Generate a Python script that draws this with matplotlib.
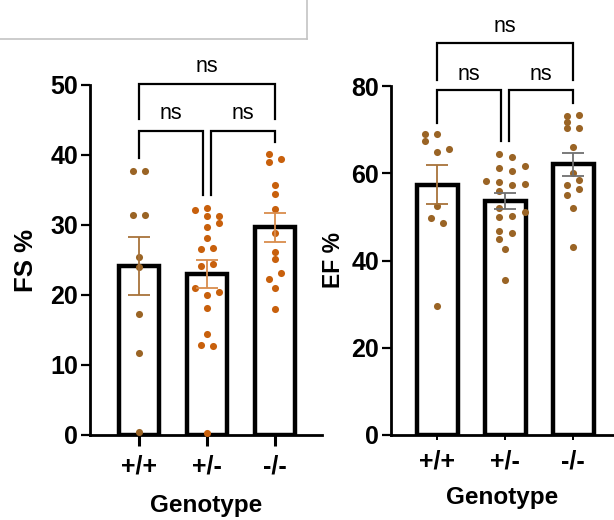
import numpy as np
import matplotlib
matplotlib.use("Agg")
import matplotlib.pyplot as plt
from matplotlib.lines import Line2D

plt.rcParams['font.family'] = ['Liberation Sans', 'DejaVu Sans']

genotypes = ["+/+", "+/-", "-/-"]

fs_wt = [37.7, 37.7, 31.5, 31.5, 25.4, 24.0, 17.3, 11.7, 0.4]
fs_het = [32.5, 32.2, 31.3, 31.3, 30.3, 29.7, 28.2, 26.7, 26.6, 24.4, 24.1,
          21.0, 20.5, 20.0, 18.2, 14.4, 12.8, 12.7, 0.3]
fs_ko = [40.1, 39.5, 39.0, 35.7, 34.5, 32.3, 28.8, 26.2, 25.1, 23.1, 22.3, 21.0, 18.0]

ef_wt = [68.9, 68.9, 67.5, 65.6, 64.8, 52.6, 49.7, 48.6, 29.6]
ef_het = [64.5, 63.8, 61.6, 61.3, 60.6, 58.3, 58.1, 57.6, 57.3, 56.0, 52.1,
          51.2, 50.3, 50.0, 46.8, 46.2, 45.0, 42.6, 35.6]
ef_ko = [73.4, 73.2, 71.7, 70.4, 70.3, 66.1, 60.0, 58.4, 57.2, 56.3, 55.0, 52.0, 43.0]

# horizontal scatter offsets (pixels) for the dot swarm
fs_wt_dx = [-6, 6, -6, 6, 0, 0, 0, 0, 0]
fs_het_dx = [0, -12, 0, 12, 12, 0, 0, 6, -6, 6, -6, -12, 12, 0, 0, 0, -6, 6, 0]
fs_ko_dx = [-6, 6, -6, 0, 0, 0, 0, 0, 0, 6, -6, 0, 0]
ef_wt_dx = [-12, 0, -12, 12, 0, 0, -6, 6, 0]
ef_het_dx = [-6.5, 6.5, 19.5, -6.5, 6.5, -19.5, -6.5, 19.5, 6.5, -6.5, -6.5,
             19.5, 6.5, -6.5, -6.5, 6.5, -6.5, 0, 0]
ef_ko_dx = [6, -6, -6, 6, -6, 0, 0, 6, -6, 6, -6, 0, 0]

BROWN = "#9A6425"
ORANGE = "#C8600C"

W, H = 614, 520
fig = plt.figure(figsize=(W / 100, H / 100), dpi=100)

fig.add_artist(Line2D([0, 307 / W], [1 - 39 / H, 1 - 39 / H], color="#c4c4c4", lw=1.2))
fig.add_artist(Line2D([307 / W, 307 / W], [1, 1 - 39 / H], color="#c4c4c4", lw=1.2))

PX = 68.0  # pixels per category unit


def panel(rect, xlim, ylim, yticks, ylabel, ylabel_size, groups, offsets, dot_colors, err_colors,
          brackets, top_bracket, ylabel_x, xtick_len, xtick_w, xpad, xlabelpad):
    ax = fig.add_axes(rect)
    ax.set_xlim(*xlim)
    ax.set_ylim(*ylim)
    x = np.arange(len(groups))
    means = [np.mean(g) for g in groups]
    sems = [np.std(g, ddof=1) / np.sqrt(len(g)) for g in groups]
    ax.bar(x, means, width=0.6, facecolor="white", edgecolor="black", linewidth=3.2, zorder=2)
    for i, (g, dx) in enumerate(zip(groups, offsets)):
        xs = i + np.array(dx) / PX
        ax.scatter(xs, g, s=26, color=dot_colors[i], zorder=3, linewidths=0, clip_on=False)
        ax.errorbar(i, means[i], yerr=sems[i], color=err_colors[i], capsize=8,
                    elinewidth=1.3, capthick=1.3, zorder=4)
    for s in ["top", "right"]:
        ax.spines[s].set_visible(False)
    for s in ["left", "bottom"]:
        ax.spines[s].set_linewidth(2.0)
    ax.set_yticks(yticks)
    ax.tick_params(axis="y", length=6.5, width=1.6, labelsize=18, pad=2)
    ax.tick_params(axis="x", length=xtick_len, width=xtick_w, labelsize=18, pad=xpad)
    for lab in ax.get_yticklabels() + ax.get_xticklabels():
        lab.set_fontweight("bold")
    ax.set_xticks(x)
    ax.set_xticklabels(genotypes, fontweight="bold")
    ax.set_xlabel("Genotype", fontsize=17.5, fontweight="bold", labelpad=xlabelpad)
    ax.set_ylabel(ylabel, fontsize=ylabel_size, fontweight="bold")
    ax.yaxis.set_label_coords(ylabel_x, 0.5)
    # comparison brackets
    for (xa, xb, yh, ya, yb, ty) in brackets:
        ax.plot([xa, xa, xb, xb], [ya, yh, yh, yb], color="black", lw=1.6,
                clip_on=False, zorder=5, solid_joinstyle="miter")
        ax.text((xa + xb) / 2, ty, "ns", ha="center", va="center", fontsize=15.5, clip_on=False)
    xa, xb, yh, yl, ty = top_bracket
    ax.plot([xa, xa, xb, xb], [yl, yh, yh, yl], color="black", lw=1.6, clip_on=False,
            solid_joinstyle="miter")
    ax.text((xa + xb) / 2, ty, "ns", ha="center", va="center", fontsize=15.5, clip_on=False)
    return ax


bottom = (H - 435) / H
panel([90 / W, bottom, (322 - 90) / W, 350 / H], (-0.72, 2.69), (0, 50), [0, 10, 20, 30, 40, 50],
      "FS %", 18.5, [fs_wt, fs_het, fs_ko], [fs_wt_dx, fs_het_dx, fs_ko_dx],
      [BROWN, ORANGE, ORANGE], ["#A8733A", "#D98C4C", "#D98C4C"],
      [(0, 0.94, 43.5, 39.6, 34.3, 45.9), (1.06, 2, 43.5, 34.3, 41.9, 45.9)],
      (0, 2, 50.2, 45.1, 52.6), -0.225, 8, 2.2, 6, 11)

panel([391 / W, bottom, (614 - 391) / W, 349 / H], (-0.68, 2.60), (0, 80), [0, 20, 40, 60, 80],
      "EF %", 16.5, [ef_wt, ef_het, ef_ko], [ef_wt_dx, ef_het_dx, ef_ko_dx],
      [BROWN, BROWN, BROWN], ["#A8733A", "#707070", "#707070"],
      [(0, 0.94, 79.0, 71.5, 67.3, 82.6), (1.06, 2, 79.0, 67.3, 76.1, 82.6)],
      (0, 2, 89.8, 81.4, 93.6), -0.205, 3.6, 1.4, 7, 9)

fig.savefig("out.png", dpi=100)
